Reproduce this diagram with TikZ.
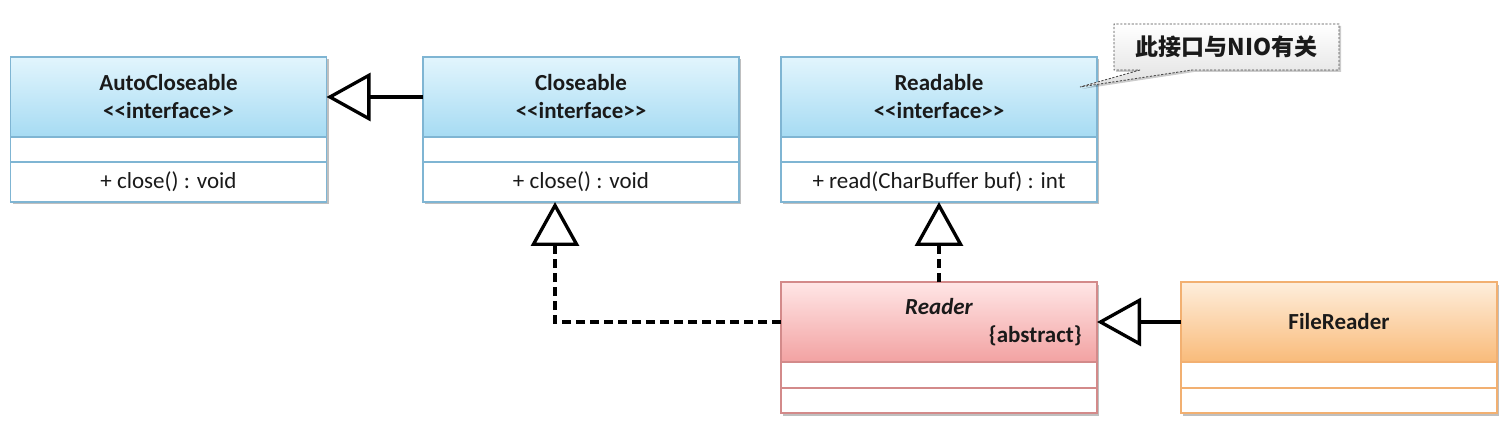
\documentclass[tikz,border=0pt]{standalone}
\usepackage{fontspec}
\setmainfont{Carlito}
\newfontfamily\cjk{Noto Sans CJK SC}
\usetikzlibrary{arrows.meta,shadows,shapes.callouts}
\definecolor{bbd}{HTML}{7FB5D3}
\definecolor{btop}{HTML}{E2F5FD}
\definecolor{bbot}{HTML}{A6DBF3}
\definecolor{rbd}{HTML}{D38A8A}
\definecolor{rtop}{HTML}{FFE6E6}
\definecolor{rbot}{HTML}{F2A2A2}
\definecolor{obd}{HTML}{F2B071}
\definecolor{otop}{HTML}{FEEEDC}
\definecolor{obot}{HTML}{F9BB7A}
\definecolor{txt}{HTML}{1A1A1A}
\begin{document}
\begin{tikzpicture}[x=1pt,y=-1pt,
  cls/.style={rectangle, draw=#1, line width=1.2pt, minimum width=316pt,
    inner sep=0pt, outer sep=0pt, anchor=north, text=txt,
    font=\fontsize{23}{28}\selectfont, align=center,
    drop shadow={shadow xshift=2pt, shadow yshift=-2.5pt, opacity=0.25, fill=black}},
  comp/.style={cls=#1, fill=white},
  lbl/.style={inner sep=0pt, text=txt, font=\fontsize{23}{28}\selectfont\bfseries},
  gen/.style={line width=3.3pt, draw=black, -{Triangle[open, length=44pt, width=48pt]}},
  real/.style={gen, dash pattern=on 9pt off 5pt},
  note/.style={rectangle callout, draw=black!70, line width=0.9pt,
    dash pattern=on 2.2pt off 1.6pt, top color=white, bottom color=black!12,
    minimum width=225pt, minimum height=46pt, inner sep=0pt,
    callout pointer width=52pt, text=txt,
    font=\cjk\bfseries\fontsize{23}{26}\selectfont,
    drop shadow={shadow xshift=2pt, shadow yshift=-2pt, opacity=0.2, fill=black}}
]
\useasboundingbox (0,0) rectangle (1505,422);

% AutoCloseable
\node[cls=bbd, top color=btop, bottom color=bbot, minimum height=80pt] (acH) at (168.5,57)
  {\bfseries AutoCloseable\\\bfseries <\kern0pt<interface>\kern0pt>};
\node[comp=bbd, minimum height=25pt] (acA) at (acH.south) {};
\node[comp=bbd, minimum height=40pt] (acO) at (acA.south) {+ close() : void};

% Closeable
\node[cls=bbd, top color=btop, bottom color=bbot, minimum height=80pt] (clH) at (581,57)
  {\bfseries Closeable\\\bfseries <\kern0pt<interface>\kern0pt>};
\node[comp=bbd, minimum height=25pt] (clA) at (clH.south) {};
\node[comp=bbd, minimum height=40pt] (clO) at (clA.south) {+ close() : void};

% Readable
\node[cls=bbd, top color=btop, bottom color=bbot, minimum height=80pt] (rbH) at (939,57)
  {\bfseries Readable\\\bfseries <\kern0pt<interface>\kern0pt>};
\node[comp=bbd, minimum height=25pt] (rbA) at (rbH.south) {};
\node[comp=bbd, minimum height=40pt] (rbO) at (rbA.south) {+ read(CharBuffer buf) : int};

% Reader
\node[cls=rbd, top color=rtop, bottom color=rbot, minimum height=80pt] (rdH) at (939,282) {};
\node[lbl] (rdN) at (939,307) {\itshape Reader};
\node[lbl, anchor=east] (rdS) at (1082,336) {\{abstract\}};
\node[comp=rbd, minimum height=26pt] (rdA) at (rdH.south) {};
\node[comp=rbd, minimum height=25pt] (rdO) at (rdA.south) {};

% FileReader
\node[cls=obd, top color=otop, bottom color=obot, minimum height=80pt] (frH) at (1339,282)
  {\bfseries FileReader};
\node[comp=obd, minimum height=26pt] (frA) at (frH.south) {};
\node[comp=obd, minimum height=25pt] (frO) at (frA.south) {};

% note
\node[note, callout absolute pointer={(1080,87)}] (nt) at (1226.5,47) {此接口与NIO有关};

% connectors
\draw[gen] (clH.west) -- (acH.east);
\draw[real] (rdH.west) -| ([xshift=-26pt]clO.south);
\draw[real] (rdH.north) -- (rbO.south);
\draw[gen] (frH.west) -- (rdH.east);
\end{tikzpicture}
\end{document}
